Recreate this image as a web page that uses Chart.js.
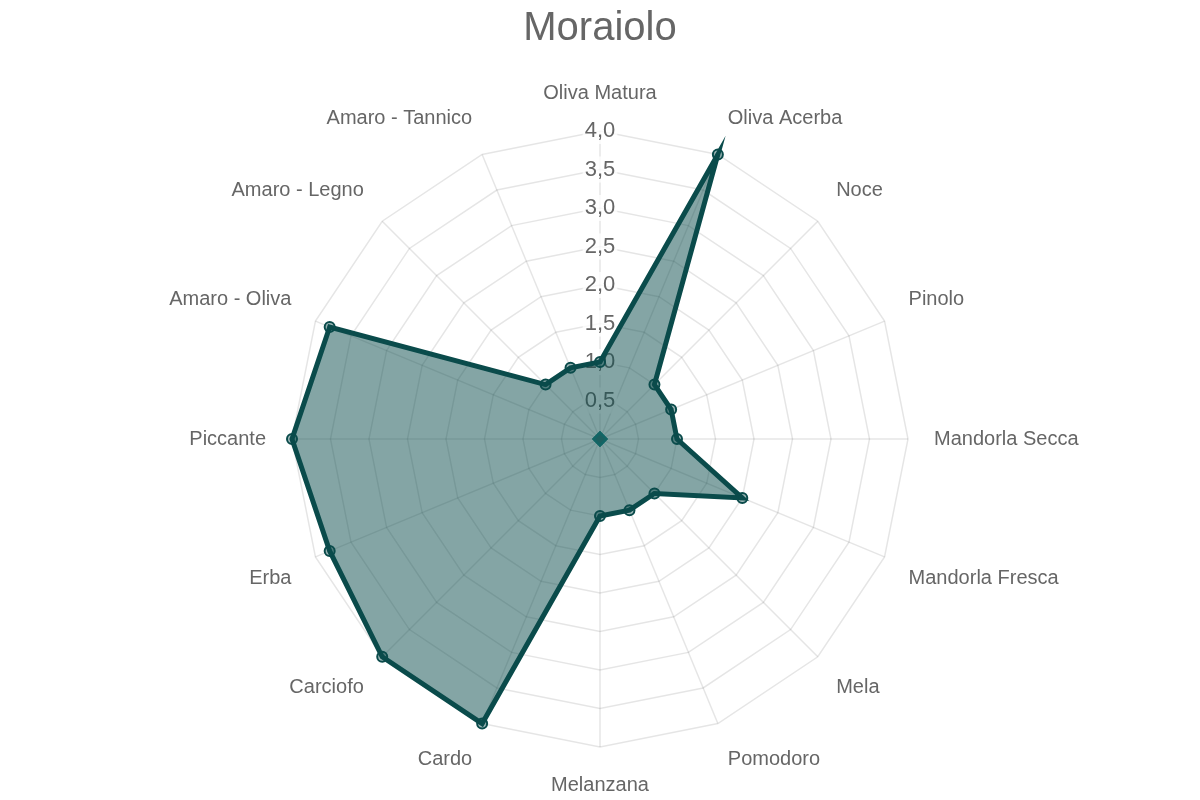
<!DOCTYPE html>
<html lang="it">
<head>
<meta charset="utf-8">
<title>Moraiolo</title>
<script src="https://cdn.jsdelivr.net/npm/chart.js@4"></script>
<style>
    html, body { margin: 0; padding: 0; background: #fff; }
    #wrap { width: 1200px; height: 800px; }
</style>
</head>
<body>
<div id="wrap"><canvas id="radarChart"></canvas></div>
<script>
const categories = [
    "Oliva Matura", "Oliva Acerba", "Noce", "Pinolo", "Mandorla Secca",
    "Mandorla Fresca", "Mela", "Pomodoro", "Melanzana", "Cardo", "Carciofo",
    "Erba", "Piccante", "Amaro - Oliva", "Amaro - Legno", "Amaro - Tannico",
];
const moraioloValues = [1.0, 4.0, 1.0, 1.0, 1.0, 2.0, 1.0, 1.0, 1.0, 4.0, 4.0, 3.8, 4.0, 3.8, 1.0, 1.0];
const centerValues = [0, 0, 0, 0, 0, 0, 0, 0, 0, 0, 0, 0, 0, 0, 0, 0];
const tickStep = 0.5;
const tickMax = 4.0;

const fontFamily = "'Helvetica Neue', Helvetica, Arial, 'Liberation Sans', sans-serif";
Chart.defaults.font.family = fontFamily;
Chart.defaults.color = "#666";

new Chart(document.getElementById("radarChart"), {
    type: "radar",
    data: {
        labels: categories,
        datasets: [
            {
                label: "Moraiolo",
                data: moraioloValues,
                borderColor: "#0a4b4b",
                backgroundColor: "rgba(10, 75, 75, 0.5)",
                borderWidth: 5,
                pointRadius: 5,
                pointBorderWidth: 2,
                pointBackgroundColor: "rgba(10, 75, 75, 0.4)",
                pointBorderColor: "#0a4b4b",
                fill: true,
            },
            {
                label: "centro",
                data: centerValues,
                showLine: false,
                fill: false,
                pointStyle: "rectRot",
                pointRadius: 6,
                pointBorderWidth: 2,
                pointBackgroundColor: "#2f7272",
                pointBorderColor: "#1b7f7f",
            },
        ],
    },
    options: {
        responsive: true,
        maintainAspectRatio: false,
        animation: false,
        layout: { padding: { bottom: 2 } },
        scales: {
            r: {
                min: 0,
                max: tickMax,
                beginAtZero: true,
                ticks: {
                    stepSize: tickStep,
                    color: "#666",
                    font: { size: 22 },
                    callback: (v) => v.toFixed(1).replace(".", ","),
                },
                grid: { color: "rgba(0, 0, 0, 0.1)", lineWidth: 1.5 },
                angleLines: { color: "rgba(0, 0, 0, 0.1)", lineWidth: 1.5 },
                pointLabels: {
                    color: "#666",
                    padding: 13,
                    font: { size: 20 },
                },
            },
        },
        plugins: {
            legend: { display: false },
            tooltip: { enabled: false },
            title: {
                display: true,
                text: "Moraiolo",
                color: "#666",
                font: { size: 40, weight: "normal" },
                padding: { top: 5, bottom: 28 },
            },
        },
    },
});
</script>
</body>
</html>
